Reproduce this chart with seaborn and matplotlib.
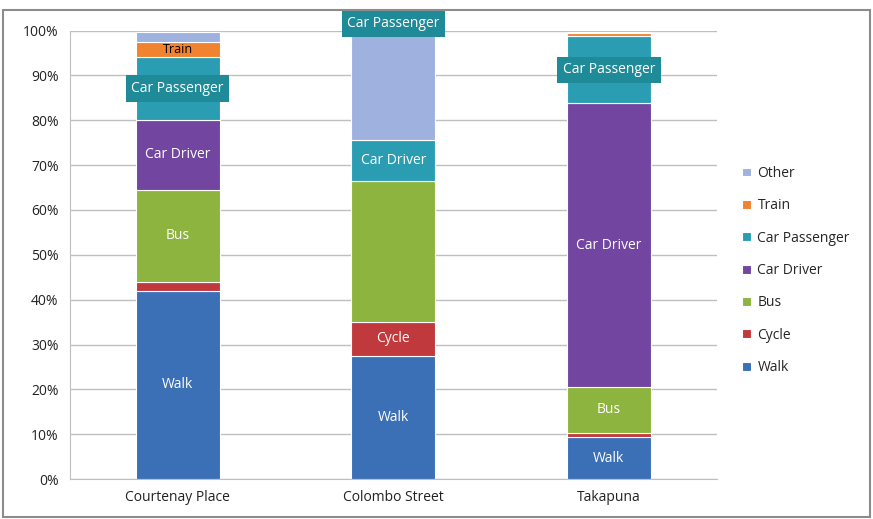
import pandas as pd
import matplotlib.pyplot as plt
import seaborn as sns
from matplotlib.patches import Rectangle

# data (share of trips, %)
places = ['Courtenay Place', 'Colombo Street', 'Takapuna']
modes = ['Walk', 'Cycle', 'Bus', 'Car Driver', 'Car Passenger', 'Train', 'Other']
walk = [42.0, 27.5, 9.3]
cycle = [2.0, 7.6, 1.0]
bus = [20.5, 31.3, 10.2]
car_driver = [15.6, 9.3, 63.3]
car_passenger = [14.0, 23.3, 15.0]
train = [3.3, 0.0, 0.7]
other = [2.4, 0.0, 0.3]

colors = {'Walk': '#3b6fb6', 'Cycle': '#c0393c', 'Bus': '#8db43e',
          'Car Driver': '#7245a0', 'Car Passenger': '#2a9db3',
          'Train': '#f08230', 'Other': '#9fb1df'}
# Colombo Street segments were recoloured in the original chart
overrides = {('Colombo Street', 'Car Driver'): '#2a9db3',
             ('Colombo Street', 'Car Passenger'): '#9fb1df'}

df = pd.DataFrame({'place': places, 'Walk': walk, 'Cycle': cycle, 'Bus': bus,
                   'Car Driver': car_driver, 'Car Passenger': car_passenger,
                   'Train': train, 'Other': other})

sns.set_style('white')
plt.rcParams['font.family'] = ['Open Sans', 'DejaVu Sans']

fig = plt.figure(figsize=(8.73, 5.19), dpi=100)
ax = fig.add_axes([0.080, 0.077, 0.741, 0.864])

bottom = [0.0, 0.0, 0.0]
centers = {}
for m in modes:
    sns.barplot(data=df, x='place', y=m, bottom=bottom, color=colors[m],
                width=0.39, edgecolor='white', linewidth=0.8, saturation=1,
                ax=ax, label=m)
    for i, p in enumerate(places):
        key = (p, m)
        if key in overrides:
            ax.containers[-1].patches[i].set_facecolor(overrides[key])
        centers[key] = bottom[i] + df[m][i] / 2
    bottom = [b + v for b, v in zip(bottom, df[m])]

# segment labels
white_labels = [('Courtenay Place', 'Walk'), ('Courtenay Place', 'Bus'),
                ('Courtenay Place', 'Car Driver'),
                ('Colombo Street', 'Walk'), ('Colombo Street', 'Cycle'),
                ('Colombo Street', 'Car Driver'),
                ('Takapuna', 'Walk'), ('Takapuna', 'Bus'), ('Takapuna', 'Car Driver')]
for p, m in white_labels:
    ax.text(places.index(p), centers[(p, m)], m, color='white', fontsize=10,
            ha='center', va='center')

ax.text(0, centers[('Courtenay Place', 'Train')], 'Train', color='black',
        fontsize=9, ha='center', va='center')

box = dict(boxstyle='square,pad=0.4', facecolor='#1f8b98', edgecolor='none')
for p, y in [('Courtenay Place', centers[('Courtenay Place', 'Car Passenger')]),
             ('Colombo Street', 101.6),
             ('Takapuna', centers[('Takapuna', 'Car Passenger')])]:
    ax.text(places.index(p), y, 'Car Passenger', color='white', fontsize=10,
            ha='center', va='center', bbox=box, clip_on=False, zorder=5)

ax.set_xlim(-0.5, 2.5)
ax.set_ylim(0, 100)
ax.set_yticks(range(0, 101, 10))
ax.set_yticklabels([f'{t}%' for t in range(0, 101, 10)], fontsize=10, color='#222222')
ax.tick_params(axis='x', labelsize=10, colors='#222222', length=0, pad=8)
ax.tick_params(axis='y', length=0, pad=8)
ax.yaxis.grid(True, color='#bfbfbf', linewidth=1)
ax.set_axisbelow(True)
ax.set_xlabel('')
ax.set_ylabel('')
for s in ['top', 'right']:
    ax.spines[s].set_visible(False)
for s in ['left', 'bottom']:
    ax.spines[s].set_color('#bfbfbf')

handles, labels = ax.get_legend_handles_labels()
leg = ax.legend(handles[::-1], labels[::-1], loc='center left',
                bbox_to_anchor=(1.02, 0.465), frameon=False, fontsize=10,
                handlelength=0.6, handleheight=0.6, handletextpad=0.5,
                labelspacing=1.25)

fig.patches.append(Rectangle((0.004, 0.004), 0.993, 0.976, transform=fig.transFigure,
                             fill=False, edgecolor='#8c8c8c', linewidth=1.5))

fig.savefig('out.png', dpi=100)
